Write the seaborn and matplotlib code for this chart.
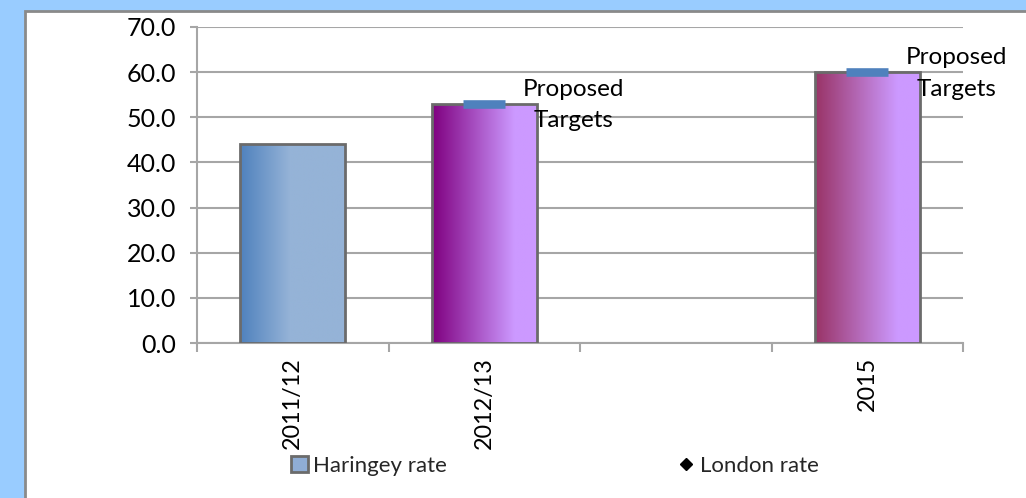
import numpy as np
import pandas as pd
import matplotlib
matplotlib.use("Agg")
import matplotlib.pyplot as plt
import seaborn as sns
from matplotlib.colors import LinearSegmentedColormap
from matplotlib.patches import Rectangle, Patch
from matplotlib.lines import Line2D
from matplotlib.ticker import FixedLocator, FormatStrFormatter

# ---- data -------------------------------------------------------------
periods = ["2011/12", "2012/13", " ", "2015"]
haringey_rate = [44.0, 53.0, np.nan, 60.0]
proposed_targets = [np.nan, 53.0, np.nan, 60.0]
target_label = "Proposed\nTargets"
y_ticks = [0, 10, 20, 30, 40, 50, 60, 70]
legend_labels = ["Haringey rate", "London rate"]

# horizontal colour ramps for each bar (position, colour)
bar_gradients = {
    "2011/12": [(0.0, "#4f81bd"), (0.47, "#95b3d7"), (1.0, "#95b3d7")],
    "2012/13": [(0.0, "#7f007f"), (0.78, "#cc99ff"), (1.0, "#cc99ff")],
    "2015": [(0.0, "#993366"), (0.78, "#cc99ff"), (1.0, "#cc99ff")],
}

# ---- style ------------------------------------------------------------
sns.set_theme(style="white")
plt.rcParams["font.family"] = ["Lato", "DejaVu Sans"]
YTICK_FS = 18
XTICK_FS = 16.8
NOTE_FS = 17.5
LEGEND_FS = 16
GRID = "#a6a6a6"
EDGE = "#6b6b6b"

fig = plt.figure(figsize=(10.26, 4.98), dpi=100, facecolor="#99ccff")
W, H = 1026, 498

# white chart panel with a grey border, running off the right and bottom edges
panel = Rectangle((25 / W, -0.2), 1.2, 0.2 + (H - 11) / H,
                  transform=fig.transFigure, facecolor="white",
                  edgecolor="#8a8a8a", lw=2, zorder=-10)
fig.patches.append(panel)

ax = fig.add_axes([197 / W, 155 / H, (963 - 197) / W, (343 - 27) / H])
ax.set_facecolor("white")

df = pd.DataFrame({"period": periods, "rate": haringey_rate})
sns.barplot(data=df, x="period", y="rate", order=periods, width=0.55,
            color="white", edgecolor=EDGE, linewidth=2, ax=ax, zorder=3)

# gradient fills clipped to each bar
ramp = np.linspace(0, 1, 256).reshape(1, -1)
for bar in list(ax.patches):
    x0, y0 = bar.get_x(), bar.get_y()
    w, h = bar.get_width(), bar.get_height()
    if not np.isfinite(h) or h == 0:
        continue
    idx = int(round(x0 + w / 2))
    cmap = LinearSegmentedColormap.from_list(f"ramp{idx}", bar_gradients[periods[idx]])
    im = ax.imshow(ramp, cmap=cmap, aspect="auto", extent=[x0, x0 + w, y0, y0 + h],
                   zorder=2.9, interpolation="bilinear")
    im.set_clip_path(bar)
    bar.set_facecolor("none")

# proposed target dashes and their labels
xpos = np.arange(len(periods))
ax.plot(xpos, proposed_targets, ls="none", marker="_", ms=30, mew=6.2,
        color="#4f81bd", zorder=5)
for x, v in zip(xpos, proposed_targets):
    if np.isfinite(v):
        ax.annotate(target_label, xy=(x, v), xytext=(64, -1),
                    textcoords="offset points", ha="center", va="center",
                    fontsize=NOTE_FS, linespacing=1.6, color="black", zorder=6)

# axes, ticks and grid
ax.set_xlim(-0.5, len(periods) - 0.5)
ax.set_ylim(0, 70)
ax.yaxis.set_major_locator(FixedLocator(y_ticks))
ax.yaxis.set_major_formatter(FormatStrFormatter("%.1f"))
ax.yaxis.grid(True, color=GRID, lw=1.5)
ax.set_axisbelow(True)
ax.set_xlabel("")
ax.set_ylabel("")

ax.set_xticks(xpos)
ax.set_xticklabels(periods, rotation=90)
ax.set_xticks(np.arange(-0.5, len(periods)), minor=True)
ax.tick_params(axis="x", which="major", length=0, pad=10, labelsize=XTICK_FS, labelcolor="black")
ax.tick_params(axis="x", which="minor", length=6.5, width=1.5, color=GRID, direction="out")
ax.tick_params(axis="y", which="major", length=5, width=1.5, color=GRID, direction="out",
               pad=10, labelsize=YTICK_FS, labelcolor="black")
ax.tick_params(bottom=True, left=True, which="both")

for side in ("top", "right"):
    ax.spines[side].set_visible(False)
for side in ("left", "bottom"):
    ax.spines[side].set_color(GRID)
    ax.spines[side].set_linewidth(1.5)

# legend
handles = [
    Patch(facecolor="#8fadd6", edgecolor=EDGE, lw=2),
    Line2D([], [], ls="none", marker="D", ms=6, color="black"),
]
fig.legend(handles, legend_labels, loc="center", bbox_to_anchor=(555 / W, 32 / H),
           ncol=2, frameon=False, fontsize=LEGEND_FS, handlelength=0.75, handleheight=0.75,
           handletextpad=0.25, columnspacing=10.4)

fig.savefig("out.png", dpi=100, facecolor=fig.get_facecolor())
